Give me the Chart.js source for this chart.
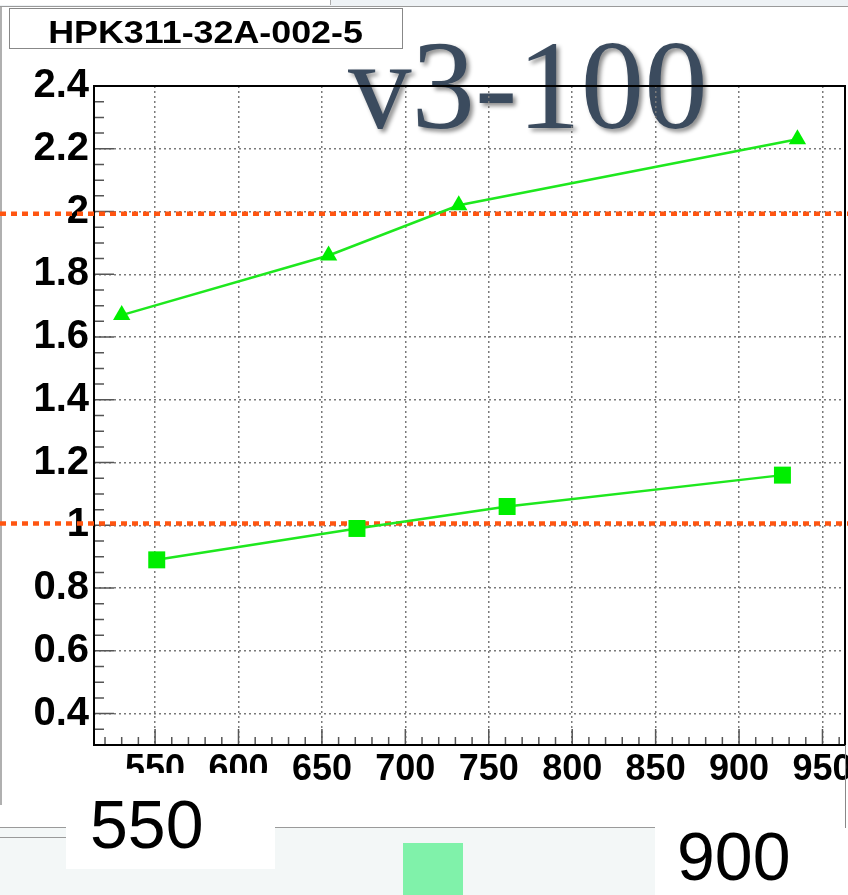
<!DOCTYPE html>
<html><head><meta charset="utf-8">
<script src="https://cdn.jsdelivr.net/npm/chart.js@4.4.0/dist/chart.umd.min.js"></script>
<style>
html,body{margin:0;padding:0;background:#fff;}
#wrap{position:relative;width:848px;height:895px;overflow:hidden;background:#fff;}
#big{position:absolute;left:348px;top:22px;font:127px "Liberation Serif",serif;color:#3b4b5e;text-shadow:3px 3px 4px rgba(0,0,0,0.45);line-height:127px;white-space:nowrap;z-index:1;}
canvas{position:absolute;left:0;top:0;z-index:2;}
.ov{position:absolute;z-index:3;}
.lo{position:absolute;z-index:1;}
.num{position:absolute;font:68px "Liberation Sans",sans-serif;line-height:68px;color:#000;white-space:nowrap;}
</style></head><body>
<div id="wrap">
 <div class="lo" style="left:0;top:0;width:848px;height:6px;background:#eef2f5;border-bottom:1px solid #9a9a9a"></div>
 <div class="lo" style="left:0;top:0;width:330px;height:5px;background:#fff;border-right:1px solid #aaa;"></div>
 <div class="lo" style="left:0;top:7px;width:2px;height:798px;background:#b0b0b0"></div>
 <div id="big">v3-100</div>
 <canvas id="c" width="848" height="895"></canvas>
 <div class="ov" style="left:9px;top:8px;width:392px;height:39px;border:1px solid #888;background:#fff;"></div>
 <div class="ov" style="left:9px;top:16px;width:394px;text-align:center;font:bold 32px 'Liberation Sans',sans-serif;line-height:32px;white-space:nowrap;"><span style="display:inline-block;transform:scaleX(1.12);">HPK311-32A-002-5</span></div>
 <div class="ov" style="left:0;top:827px;width:655px;height:68px;background:#f3f7f7;border-top:1px solid #9a9a9a;"></div>
 <div class="ov" style="left:0;top:837px;width:66px;height:1px;background:#9a9a9a;"></div>
 <div class="ov" style="left:66px;top:773px;width:209px;height:96px;background:#fff;"></div>
 <div class="ov num" style="left:90px;top:790px;">550</div>
 <div class="ov" style="left:403px;top:843px;width:60px;height:52px;background:#80f2aa;"></div>
 <div class="ov" style="left:655px;top:828px;width:193px;height:67px;background:#fff;"></div>
 <div class="ov num" style="left:677px;top:822px;">900</div>
 <div class="ov" style="left:845px;top:745px;width:1px;height:83px;background:#888;"></div>
</div>
<script>
const triX = [530, 654, 732, 935];
const triY = [1.67, 1.86, 2.02, 2.23];
const sqX = [551, 671, 761, 926];
const sqY = [0.89, 0.99, 1.06, 1.16];
const xTickLabels = [550, 600, 650, 700, 750, 800, 850, 900, 950];
const yTickLabels = [0.4, 0.6, 0.8, 1, 1.2, 1.4, 1.6, 1.8, 2, 2.2, 2.4];
const refLevels = [1.993, 1.006];
const near = (a, b) => Math.abs(a - b) < 1e-6;
const isMajorX = v => xTickLabels.some(t => near(t, v));
const isMajorY = v => yTickLabels.some(t => near(t, v));
const decor = {
  id: 'decor',
  beforeDatasetsDraw(chart) {
    const {ctx, chartArea: a, scales: {x, y}} = chart;
    ctx.save();
    ctx.strokeStyle = '#555'; ctx.lineWidth = 1.5; ctx.setLineDash([]);
    ctx.beginPath();
    x.ticks.forEach(t => { const px = x.getPixelForValue(t.value); const len = isMajorX(t.value) ? 16 : 8; ctx.moveTo(px, a.bottom); ctx.lineTo(px, a.bottom - len); });
    y.ticks.forEach(t => { const py = y.getPixelForValue(t.value); const len = isMajorY(t.value) ? 20 : 10; ctx.moveTo(a.left, py); ctx.lineTo(a.left + len, py); });
    ctx.stroke();
    ctx.strokeStyle = '#000'; ctx.lineWidth = 2;
    ctx.strokeRect(a.left, a.top, a.right - a.left, a.bottom - a.top);
    ctx.strokeStyle = '#ff5511'; ctx.lineWidth = 4.5; ctx.setLineDash([6, 5]);
    refLevels.forEach(v => { const py = y.getPixelForValue(v); ctx.beginPath(); ctx.moveTo(0, py); ctx.lineTo(chart.width, py); ctx.stroke(); });
    ctx.restore();
  }
};
new Chart(document.getElementById('c'), {
  type: 'scatter',
  data: {datasets: [
    {data: triX.map((v, i) => ({x: v, y: triY[i]})), showLine: true, borderColor: '#1ee81e', borderWidth: 2.5, pointStyle: 'triangle', pointRadius: 10, pointBackgroundColor: '#00ee00', pointBorderColor: '#00ee00', pointBorderWidth: 0},
    {data: sqX.map((v, i) => ({x: v, y: sqY[i]})), showLine: true, borderColor: '#1ee81e', borderWidth: 2.5, pointStyle: 'rect', pointRadius: 12, pointBackgroundColor: '#00ee00', pointBorderColor: '#00ee00', pointBorderWidth: 0}
  ]},
  options: {
    responsive: false, animation: false,
    layout: {autoPadding: false, padding: {top: 86, right: 3, left: 0, bottom: 0}},
    plugins: {legend: {display: false}, tooltip: {enabled: false}},
    scales: {
      x: {type: 'linear', min: 513.4, max: 963.5,
        afterFit: s => { s.height = 150; s.paddingLeft = 0; s.paddingRight = 0; },
        ticks: {stepSize: 10, includeBounds: false, autoSkip: false, maxRotation: 0, padding: 3, color: '#000',
          font: {family: 'Liberation Sans', size: 36, weight: 'bold'},
          callback: v => { const l = xTickLabels.find(t => near(t, v)); return l === undefined ? '' : String(l); }},
        grid: {drawTicks: false, lineWidth: 1.5, color: c => (c.tick && isMajorX(c.tick.value)) ? '#7a7a7a' : 'rgba(0,0,0,0)'},
        border: {display: false, dash: [2, 3]}},
      y: {type: 'linear', min: 0.3, max: 2.4,
        afterFit: s => { s.width = 94; s.paddingTop = 0; s.paddingBottom = 0; },
        ticks: {stepSize: 0.05, includeBounds: false, autoSkip: false, padding: 5, color: '#000',
          font: {family: 'Liberation Sans', size: 40, weight: 'bold'},
          callback: v => { const l = yTickLabels.find(t => near(t, v)); return l === undefined ? '' : String(l); }},
        grid: {drawTicks: false, lineWidth: 1.5, color: c => (c.tick && isMajorY(c.tick.value)) ? '#7a7a7a' : 'rgba(0,0,0,0)'},
        border: {display: false, dash: [2, 3]}}
    }
  },
  plugins: [decor]
});
</script>
</body></html>
